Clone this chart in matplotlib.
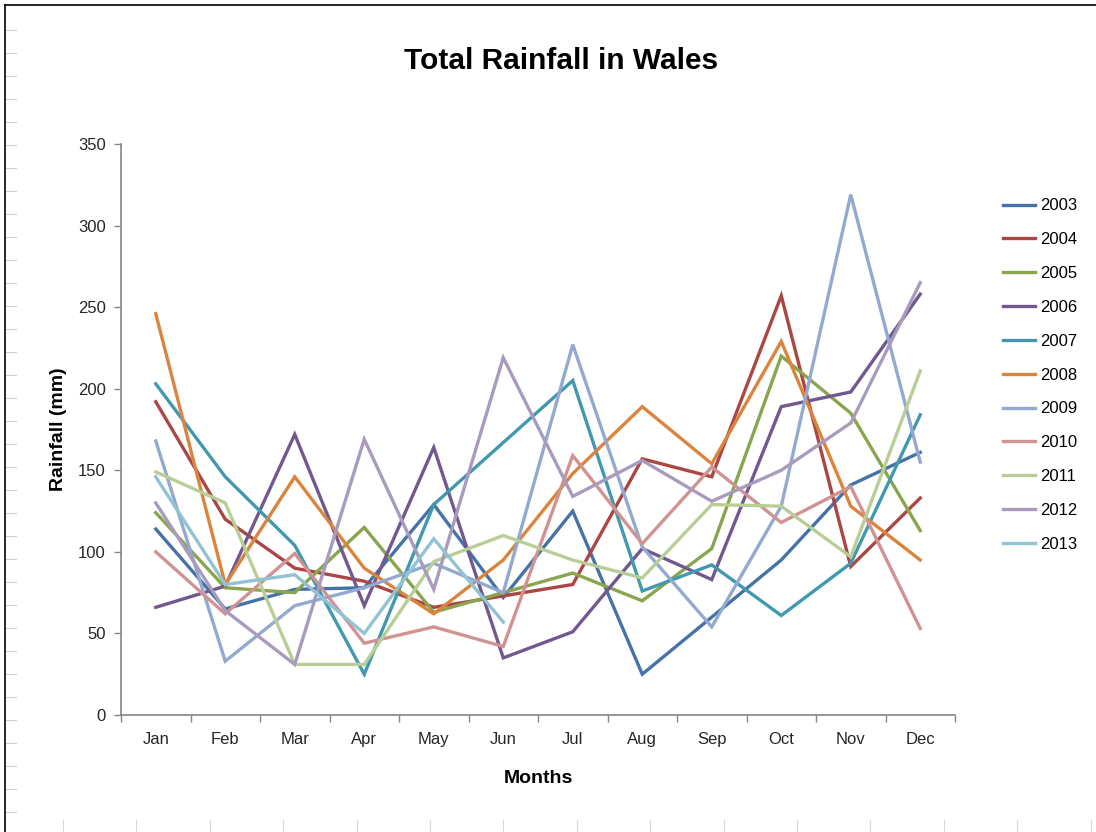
import numpy as np
import matplotlib.pyplot as plt
from matplotlib.lines import Line2D

plt.rcParams['font.family'] = ['Liberation Sans', 'DejaVu Sans']

# Monthly rainfall totals (mm) for Wales
months = ["Jan", "Feb", "Mar", "Apr", "May", "Jun",
          "Jul", "Aug", "Sep", "Oct", "Nov", "Dec"]

r2003 = [114, 65, 77, 78, 129, 72, 125, 25, 60, 95, 141, 161]
r2004 = [192, 120, 90, 82, 66, 73, 80, 157, 146, 257, 91, 133]
r2005 = [124, 78, 75, 115, 63, 75, 87, 70, 102, 220, 185, 113]
r2006 = [66, 79, 172, 67, 164, 35, 51, 102, 83, 189, 198, 258]
r2007 = [203, 146, 104, 25, 129, 167, 205, 76, 92, 61, 93, 184]
r2008 = [246, 80, 146, 90, 62, 95, 148, 189, 154, 229, 128, 95]
r2009 = [168, 33, 67, 78, 93, 75, 227, 103, 54, 128, 319, 155]
r2010 = [100, 62, 99, 44, 54, 42, 159, 105, 152, 118, 140, 53]
r2011 = [149, 130, 31, 31, 94, 110, 95, 84, 129, 128, 97, 211]
r2012 = [130, 64, 31, 169, 77, 219, 134, 156, 131, 150, 179, 265]
r2013 = [146, 80, 86, 50, 108, 57]

years = ["2003", "2004", "2005", "2006", "2007", "2008",
         "2009", "2010", "2011", "2012", "2013"]
series = [r2003, r2004, r2005, r2006, r2007, r2008,
          r2009, r2010, r2011, r2012, r2013]
colors = ["#4572A7", "#AA4643", "#89A54E", "#71588F", "#4198AF", "#DB843D",
          "#93A9CF", "#D19392", "#B9CD96", "#A99BBD", "#92C3D5"]

fig = plt.figure(figsize=(10.96, 8.32), dpi=100)

# spreadsheet frame behind the chart
fig.add_artist(Line2D([5 / 1096, 5 / 1096], [0, 1 - 5 / 832], color="black", lw=1.2))
fig.add_artist(Line2D([5 / 1096, 1], [1 - 5 / 832, 1 - 5 / 832], color="black", lw=1.2))
for yy in np.arange(30, 832, 23):
    fig.add_artist(Line2D([6 / 1096, 16 / 1096], [1 - yy / 832] * 2, color="#d0d0d0", lw=0.8))
for xx in np.arange(63, 1096, 73.4):
    fig.add_artist(Line2D([xx / 1096] * 2, [0, 12 / 832], color="#d8d8d8", lw=0.8))

ax = fig.add_axes([121 / 1096, 117 / 832, 834 / 1096, 571 / 832])

x = np.arange(len(months))
for yr, vals, c in zip(years, series, colors):
    ax.plot(x[:len(vals)], vals, color=c, lw=2.4, label=yr, solid_joinstyle="miter")

ax.set_xlim(-0.5, len(months) - 0.5)
ax.set_ylim(0, 350)
ax.set_yticks(np.arange(0, 351, 50))
ax.set_xticks(x)
ax.set_xticklabels(months)
ax.set_xticks(np.arange(-0.5, len(months), 1), minor=True)
ax.tick_params(axis="x", which="major", length=0, pad=12)
ax.tick_params(axis="x", which="minor", length=5, color="#868686", width=1)
ax.tick_params(axis="y", length=5, color="#868686", width=1, pad=6)
ax.tick_params(labelsize=12, labelcolor="#262626")

for s in ["top", "right"]:
    ax.spines[s].set_visible(False)
for s in ["left", "bottom"]:
    ax.spines[s].set_color("#868686")
    ax.spines[s].set_linewidth(1.2)

ax.set_xlabel("Months", fontsize=14, fontweight="bold", labelpad=17)
ax.set_ylabel("Rainfall (mm)", fontsize=14, fontweight="bold", labelpad=8)
fig.text(0.512, 0.927, "Total Rainfall in Wales", ha="center", va="center",
         fontsize=21.5, fontweight="bold")

ax.legend(loc="upper left", bbox_to_anchor=(995 / 1096, 1 - 190 / 832),
          bbox_transform=fig.transFigure, frameon=False, fontsize=12,
          handlelength=1.9, handletextpad=0.3, labelspacing=1.13, borderpad=0)

fig.savefig("out.png", dpi=100, facecolor="white")
